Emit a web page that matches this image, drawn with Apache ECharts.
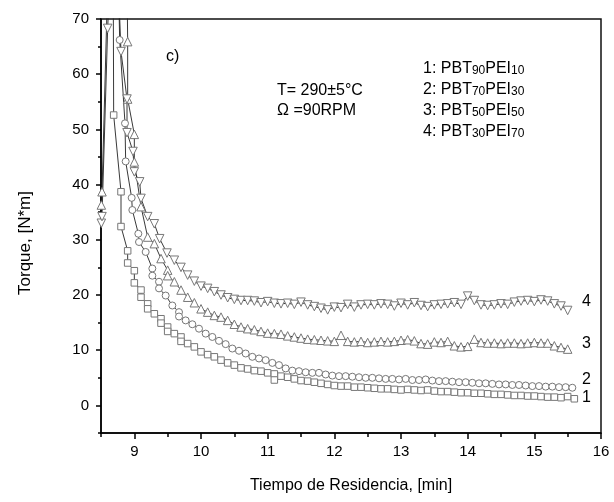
<!DOCTYPE html>
<html>
<head>
<meta charset="utf-8">
<script src="https://cdn.jsdelivr.net/npm/echarts@6/dist/echarts.min.js"></script>
<style>html,body{margin:0;padding:0;background:#fff;}#c{width:614px;height:502px;}</style>
</head>
<body>
<div id="c"></div>
<script>
// ---- Data ----
const xMajorTicks = [9, 10, 11, 12, 13, 14, 15, 16];
const xMinorTicks = [8.5, 9.5, 10.5, 11.5, 12.5, 13.5, 14.5, 15.5];
const yMajorTicks = [0, 10, 20, 30, 40, 50, 60, 70];
const yMinorTicks = [-5, 5, 15, 25, 35, 45, 55, 65];

// Series 1: PBT90PEI10 (squares)
const s1x = [8.68,8.69,8.8,8.8,8.9,8.9,9.0,9.0,9.1,9.1,9.2,9.2,9.3,9.4,9.4,9.5,9.5,9.6,9.7,9.7,9.8,9.9,
  10.0,10.1,10.2,10.3,10.4,10.5,10.6,10.7,10.8,10.9,11.0,11.1,11.1,
  11.2,11.3,11.4,11.5,11.6,11.7,11.8,11.9,12.0,
  12.1,12.2,12.3,12.4,12.5,12.6,12.7,12.8,12.9,13.0,13.1,13.2,13.3,13.4,13.5,13.6,13.7,13.8,13.9,14.0,
  14.1,14.2,14.3,14.4,14.5,14.6,14.7,14.8,14.9,15.0,15.1,15.2,15.3,15.4,15.5,15.6];
const s1y = [90,52.6,38.7,32.4,28.0,25.8,24.4,22.2,20.9,19.6,18.4,17.5,16.6,15.7,14.9,14.2,13.4,13.0,12.4,11.6,11.2,10.6,
  9.7,9.2,8.8,8.2,7.7,7.3,6.8,6.6,6.3,6.2,5.9,5.7,4.6,
  5.3,5.1,4.8,4.5,4.4,4.2,4.0,3.8,3.6,
  3.5,3.5,3.3,3.3,3.2,3.1,3.0,3.0,2.9,2.8,2.9,2.8,2.7,2.8,2.6,2.5,2.5,2.4,2.3,2.3,
  2.2,2.2,2.1,2.0,2.0,1.9,1.8,1.8,1.7,1.7,1.6,1.5,1.5,1.4,1.6,1.2];

// Series 2: PBT70PEI30 (circles)
const s2x = [8.74,8.78,8.86,8.87,8.96,8.97,9.06,9.07,9.17,9.27,9.27,9.37,9.37,9.47,9.57,9.67,9.67,9.77,9.87,9.97,
  10.07,10.17,10.27,10.37,10.47,10.57,10.67,10.77,10.87,10.97,11.07,11.17,11.27,11.37,11.47,11.57,11.67,11.77,11.87,11.97,
  12.07,12.17,12.27,12.37,12.47,12.57,12.67,12.77,12.87,12.97,13.07,13.17,13.27,13.37,13.47,13.57,13.67,13.77,13.87,13.97,
  14.07,14.17,14.27,14.37,14.47,14.57,14.67,14.77,14.87,14.97,15.07,15.17,15.27,15.37,15.47,15.57];
const s2y = [90,66.2,51.1,44.2,37.6,35.4,31.1,29.6,27.8,24.8,23.5,22.4,21.2,19.9,18.1,16.9,16.1,15.4,14.7,13.9,
  13.0,12.4,11.7,11.1,10.3,9.9,9.4,8.8,8.5,8.2,7.7,7.3,6.7,6.3,6.2,6.0,5.9,5.9,5.6,5.4,
  5.3,5.3,5.2,5.1,5.0,5.0,4.9,4.8,4.8,4.7,4.8,4.6,4.6,4.7,4.5,4.4,4.4,4.3,4.2,4.2,
  4.1,4.0,4.0,3.9,3.8,3.8,3.7,3.7,3.6,3.5,3.5,3.4,3.4,3.3,3.3,3.2];

// Series 3: PBT50PEI50 (up triangles)
const s3x = [8.505,8.515,8.62,8.88,8.9,8.9,9.0,9.0,9.1,9.2,9.3,9.4,9.5,9.5,9.6,9.7,9.8,9.9,
  10.0,10.1,10.2,10.3,10.4,10.5,10.6,10.7,10.8,10.9,11.0,11.1,11.2,11.3,11.4,11.5,11.6,11.7,11.8,11.9,12.0,
  12.1,12.2,12.3,12.4,12.5,12.6,12.7,12.8,12.9,13.0,13.1,13.2,13.3,13.4,13.5,13.6,13.7,13.8,13.9,14.0,
  14.1,14.2,14.3,14.4,14.5,14.6,14.7,14.8,14.9,15.0,15.1,15.2,15.3,15.4,15.5];
const s3y = [36.3,38.7,85,90,65.9,55.5,49.1,44.1,36.0,30.5,29.3,26.6,24.5,23.5,22.4,20.9,19.6,18.6,
  17.5,16.9,16.3,16.0,15.4,14.7,14.2,13.9,13.7,13.4,13.1,13.0,12.9,12.6,12.4,12.2,12.0,11.9,11.8,11.7,11.6,
  12.7,11.6,11.5,11.6,11.4,11.5,11.6,11.5,11.6,11.8,11.9,11.7,11.2,11.1,11.5,11.4,11.6,10.8,10.6,10.7,
  12.0,11.4,11.3,11.3,11.2,11.3,11.3,11.2,11.3,11.4,11.3,11.3,10.8,10.5,10.2];

// Series 4: PBT30PEI70 (down triangles)
const s4x = [8.505,8.515,8.6,8.7,8.8,8.89,8.89,8.98,9.0,9.08,9.1,9.2,9.3,9.38,9.49,9.6,9.7,9.8,9.9,
  10.0,10.1,10.2,10.3,10.4,10.5,10.6,10.7,10.8,10.9,11.0,11.1,11.2,11.3,11.4,11.5,11.6,11.7,11.8,11.9,12.0,
  12.1,12.2,12.3,12.4,12.5,12.6,12.7,12.8,12.9,13.0,13.1,13.2,13.3,13.4,13.5,13.6,13.7,13.8,13.9,14.0,
  14.1,14.2,14.3,14.4,14.5,14.6,14.7,14.8,14.9,15.0,15.1,15.2,15.3,15.4,15.5];
const s4y = [33.0,34.2,68.3,95,64.1,55.5,49.4,46.0,42.3,40.5,37.5,34.2,32.9,30.2,27.6,26.3,25.0,23.6,22.5,
  21.6,21.2,20.6,20.0,19.5,19.2,19.0,19.0,18.9,18.6,18.8,18.5,18.4,18.5,18.3,18.7,18.2,17.9,17.6,17.3,17.8,
  17.7,18.3,17.8,18.2,18.3,18.2,18.4,18.3,18.0,18.5,18.2,18.6,18.1,17.9,18.2,18.3,18.4,18.6,18.3,19.8,
  19.0,18.2,18.1,18.2,18.4,18.3,18.7,18.9,19.0,18.8,19.1,18.9,18.4,18.0,17.2];

const curveLabels = ['1', '2', '3', '4'];
const xTitle = 'Tiempo de Residencia, [min]';
const yTitle = 'Torque, [N*m]';

// ---- Chart ----
const F = '"Liberation Sans", Arial, sans-serif';
const zip = (xs, ys) => xs.map((x, i) => [x, ys[i]]);
const markerStyle = { color: '#fff', borderColor: '#777', borderWidth: 1 };
const lineStyle = { color: '#222', width: 0.9 };

function mkSeries(name, xs, ys, symbol, size, rot) {
  return {
    name, type: 'line', data: zip(xs, ys), xAxisIndex: 0, yAxisIndex: 0,
    symbol, symbolSize: size, symbolRotate: rot || 0, showSymbol: true,
    itemStyle: markerStyle, lineStyle, clip: true, silent: true, animation: false,
    emphasis: { disabled: true }
  };
}

const chart = echarts.init(document.getElementById('c'), null, { renderer: 'canvas' });
const axisBlack = { color: '#000', width: 1.5 };
chart.setOption({
  animation: false,
  backgroundColor: '#fff',
  grid: { left: 101, right: 13, top: 19, bottom: 69, show: true, borderColor: '#111', borderWidth: 1.5, backgroundColor: 'transparent' },
  xAxis: [
    { type: 'value', min: 8.5, max: 16, position: 'bottom',
      axisLine: { show: true, onZero: false, lineStyle: axisBlack },
      axisTick: { show: true, customValues: xMajorTicks, length: 6, lineStyle: axisBlack },
      axisLabel: { customValues: xMajorTicks, fontSize: 15, fontFamily: F, color: '#000', margin: 11 },
      splitLine: { show: false },
      name: xTitle, nameLocation: 'middle', nameGap: 45,
      nameTextStyle: { fontSize: 16, fontFamily: F, color: '#000' } },
    { type: 'value', min: 8.5, max: 16, position: 'bottom',
      axisLine: { show: false, onZero: false },
      axisTick: { show: true, customValues: xMinorTicks, length: 4, lineStyle: axisBlack },
      axisLabel: { show: false }, splitLine: { show: false } }
  ],
  yAxis: [
    { type: 'value', min: -5, max: 70, position: 'left',
      axisLine: { show: true, onZero: false, lineStyle: axisBlack },
      axisTick: { show: true, customValues: yMajorTicks, length: 5, lineStyle: axisBlack },
      axisLabel: { customValues: yMajorTicks, fontSize: 15, fontFamily: F, color: '#000', margin: 12 },
      splitLine: { show: false } },
    { type: 'value', min: -5, max: 70, position: 'left',
      axisLine: { show: false, onZero: false },
      axisTick: { show: true, customValues: yMinorTicks, length: 3, lineStyle: axisBlack },
      axisLabel: { show: false }, splitLine: { show: false } }
  ],
  series: [
    mkSeries('PBT90PEI10', s1x, s1y, 'rect', 6.5),
    mkSeries('PBT70PEI30', s2x, s2y, 'circle', 7),
    mkSeries('PBT50PEI50', s3x, s3y, 'triangle', 8.5),
    mkSeries('PBT30PEI70', s4x, s4y, 'triangle', 8.5, 180)
  ],
  graphic: [
    { type: 'text', x: 25, y: 243, rotation: Math.PI / 2,
      style: { text: yTitle, align: 'center', verticalAlign: 'middle', font: '17px ' + F, fill: '#000' } },
    { type: 'text', x: 166, y: 57, style: { text: 'c)', verticalAlign: 'middle', font: '16px ' + F, fill: '#000' } },
    { type: 'text', x: 277, y: 91, style: { text: 'T= 290\u00b15\u00b0C', verticalAlign: 'middle', font: '16px ' + F, fill: '#000' } },
    { type: 'text', x: 277, y: 111, style: { text: '\u03a9 =90RPM', verticalAlign: 'middle', font: '16px ' + F, fill: '#000' } },
    ...[['1', '90', '10', 68], ['2', '70', '30', 89], ['3', '50', '50', 110], ['4', '30', '70', 131]].map(r => ({
      type: 'text', x: 423, y: r[3],
      style: {
        text: '{a|' + r[0] + ': PBT}{b|' + r[1] + '}{a|PEI}{b|' + r[2] + '}',
        verticalAlign: 'middle',
        rich: {
          a: { fontSize: 16, fontFamily: F, color: '#000', verticalAlign: 'bottom', lineHeight: 18 },
          b: { fontSize: 12, fontFamily: F, color: '#000', verticalAlign: 'bottom', lineHeight: 15 }
        }
      }
    })),
    ...[[curveLabels[3], 302], [curveLabels[2], 344], [curveLabels[1], 380], [curveLabels[0], 398]].map(r => ({
      type: 'text', x: 582, y: r[1],
      style: { text: r[0], verticalAlign: 'middle', font: '16px ' + F, fill: '#000' }
    }))
  ]
});
</script>
</body>
</html>
